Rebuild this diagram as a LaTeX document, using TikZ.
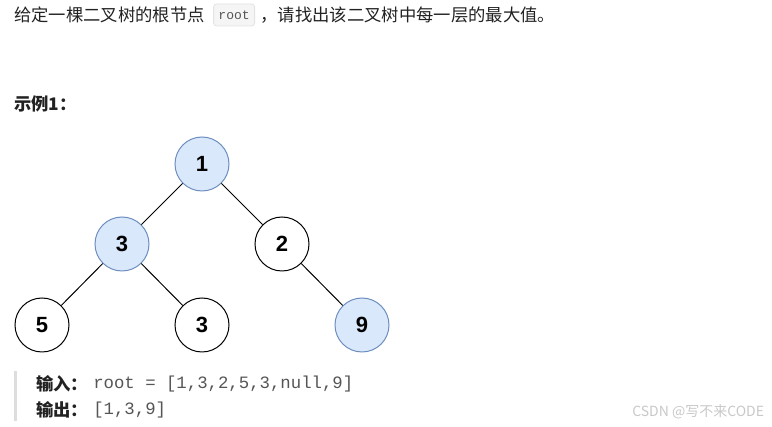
\documentclass[tikz,border=0pt]{standalone}
\usepackage{fontspec}
\setmainfont{Noto Sans CJK SC}
\newfontfamily\digitfont{Liberation Sans}
\setmonofont{Liberation Mono}
\usetikzlibrary{
  positioning,
  calc,
}
\definecolor{ink}{HTML}{222222}
\definecolor{codeText}{HTML}{555555}
\definecolor{chipFill}{HTML}{F5F5F5}
\definecolor{chipStroke}{HTML}{E3E3E3}
\definecolor{hlFill}{HTML}{DAE8FC}
\definecolor{hlStroke}{HTML}{6C8EBF}
\definecolor{quoteBar}{HTML}{DDDDDD}
\definecolor{markText}{HTML}{C8C8C8}
\tikzset{
  every node/.style={
    text=ink,
    inner sep=0pt,
  },
  para/.style={
    font=\fontsize{13}{15}\selectfont,
    anchor=west,
  },
  chip/.style={
    rectangle, rounded corners=2.2pt,
    draw=chipStroke, line width=0.6pt,
    fill=chipFill,
    minimum width=30.75pt, minimum height=16.5pt,
    font=\ttfamily\fontsize{9.75}{12}\selectfont,
    text=codeText,
  },
  heading/.style={
    font=\bfseries\fontsize{13}{15}\selectfont,
    anchor=west,
  },
  treenode/.style={
    circle, draw=black, line width=0.75pt,
    fill=white,
    minimum size=40.5pt,
    font=\digitfont\bfseries\fontsize{16.5}{18}\selectfont,
    text=black,
  },
  hl/.style={
    treenode,
    draw=hlStroke, fill=hlFill,
  },
  link/.style={
    draw=black, line width=0.75pt,
  },
  codeline/.style={
    font=\ttfamily\fontsize{13}{15}\selectfont,
    text=codeText,
    anchor=west,
  },
  watermark/.style={
    font=\fontsize{10.5}{12}\selectfont,
    text=markText,
    anchor=west,
  },
}
\begin{document}
\begin{tikzpicture}[x=0.75pt, y=-0.75pt]
\useasboundingbox (0,0) rectangle (772,427);

% ----- question line -----
\node[para] (q1) at (14,15) {给定一棵二叉树的根节点};
\node[chip, right=6pt of q1] (rootchip) {root};
\node[para, right=4pt of rootchip] (q2) {，请找出该二叉树中每一层的最大值。};

% ----- example heading -----
\node[heading] (ex) at (14,104) {示例1：};

% ----- tree -----
\node[hl]       (n1)  at (202,164) {1};
\node[hl]       (n3a) at (122,244) {3};
\node[treenode] (n2)  at (282,244) {2};
\node[treenode] (n5)  at ( 42,325) {5};
\node[treenode] (n3b) at (202,325) {3};
\node[hl]       (n9)  at (362,325) {9};

\draw[link] (n1)  -- (n3a);
\draw[link] (n1)  -- (n2);
\draw[link] (n3a) -- (n5);
\draw[link] (n3a) -- (n3b);
\draw[link] (n2)  -- (n9);

% ----- input / output block -----
\fill[quoteBar] (14,371) rectangle (17,421);
\node[heading]  (inlab)  at (36,384) {输入：};
\node[codeline] (incode) at (93,384) {root = [1,3,2,5,3,null,9]};
\node[heading]  (outlab) at (36,410) {输出：};
\node[codeline] (outcode) at (93,410) {[1,3,9]};

% ----- watermark -----
\node[watermark] (mark) at (632,412) {CSDN @写不来CODE};

\end{tikzpicture}
\end{document}
